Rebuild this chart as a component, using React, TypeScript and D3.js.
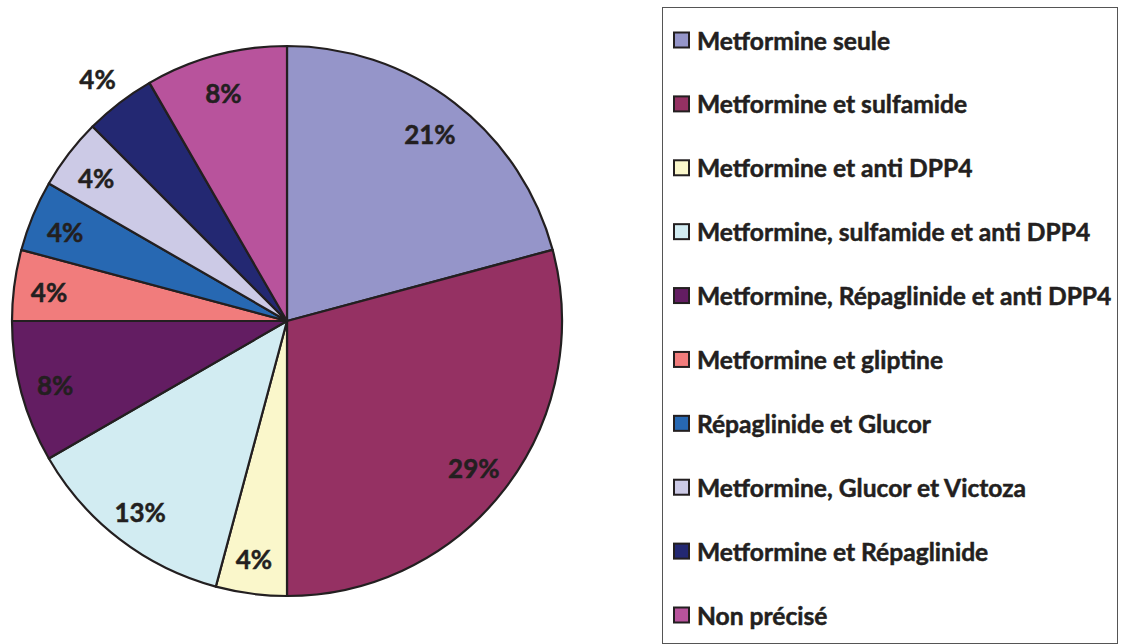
import React from "react";
import * as d3 from "d3";

const categories = [
  "Metformine seule",
  "Metformine et sulfamide",
  "Metformine et anti DPP4",
  "Metformine, sulfamide et anti DPP4",
  "Metformine, Répaglinide et anti DPP4",
  "Metformine et gliptine",
  "Répaglinide et Glucor",
  "Metformine, Glucor et Victoza",
  "Metformine et Répaglinide",
  "Non précisé",
];
const counts = [5, 7, 1, 3, 2, 1, 1, 1, 1, 2];
const colors = [
  "#9595C9",
  "#953163",
  "#FAF7CB",
  "#D2ECF2",
  "#631D62",
  "#F17C7C",
  "#2768B2",
  "#CCCAE6",
  "#232872",
  "#B8539C",
];
const outsideLabels = ["Metformine et Répaglinide"];

const W = 1127;
const H = 644;
const cx = 287;
const cy = 321;
const R = 275;
const FONT = "Lato, 'Open Sans', sans-serif";
const INK = "#231F20";

export default function App() {
  const total = d3.sum(counts);
  const data = categories.map((c, i) => ({ name: c, value: counts[i], color: colors[i] }));
  const pie = d3.pie<any>().value((d) => d.value).sort(null);
  const arcs = pie(data);
  const arc = d3.arc<any>().innerRadius(0).outerRadius(R);
  const labelArc = d3.arc<any>().innerRadius(238).outerRadius(238);
  const outArc = d3.arc<any>().innerRadius(308).outerRadius(308);

  const legendY = d3.scaleLinear().domain([0, categories.length - 1]).range([40, 615]);

  return (
    <svg width={W} height={H} style={{ position: "absolute", left: 0, top: 0, background: "#fff" }}>
      <g transform={`translate(${cx},${cy})`}>
        {arcs.map((a, i) => (
          <path key={i} d={arc(a) as string} fill={a.data.color} stroke={INK} strokeWidth={2.2} strokeLinejoin="round" />
        ))}
        {arcs.map((a, i) => {
          const [x, y] = (outsideLabels.includes(a.data.name) ? outArc : labelArc).centroid(a);
          return (
            <text
              key={"l" + i}
              x={x - 2}
              y={y + 2}
              textAnchor="middle"
              dominantBaseline="central"
              fontFamily={FONT}
              fontWeight={700}
              fontSize={26}
              fill={INK}
              stroke={INK}
              strokeWidth={0.5}
            >
              {`${Math.round((a.data.value / total) * 100)}%`}
            </text>
          );
        })}
      </g>
      <rect x={662.5} y={7.5} width={455} height={636} fill="none" stroke="#555" strokeWidth={1} />
      {categories.map((c, i) => (
        <g key={c} transform={`translate(0,${legendY(i)})`}>
          <rect x={674} y={-7.5} width={15} height={15} fill={colors[i]} stroke={INK} strokeWidth={2} />
          <text
            x={697}
            y={0}
            dominantBaseline="central"
            fontFamily={FONT}
            fontWeight={700}
            fontSize={24.6}
            fill={INK}
            stroke={INK}
            strokeWidth={0.5}
          >
            {c}
          </text>
        </g>
      ))}
    </svg>
  );
}
